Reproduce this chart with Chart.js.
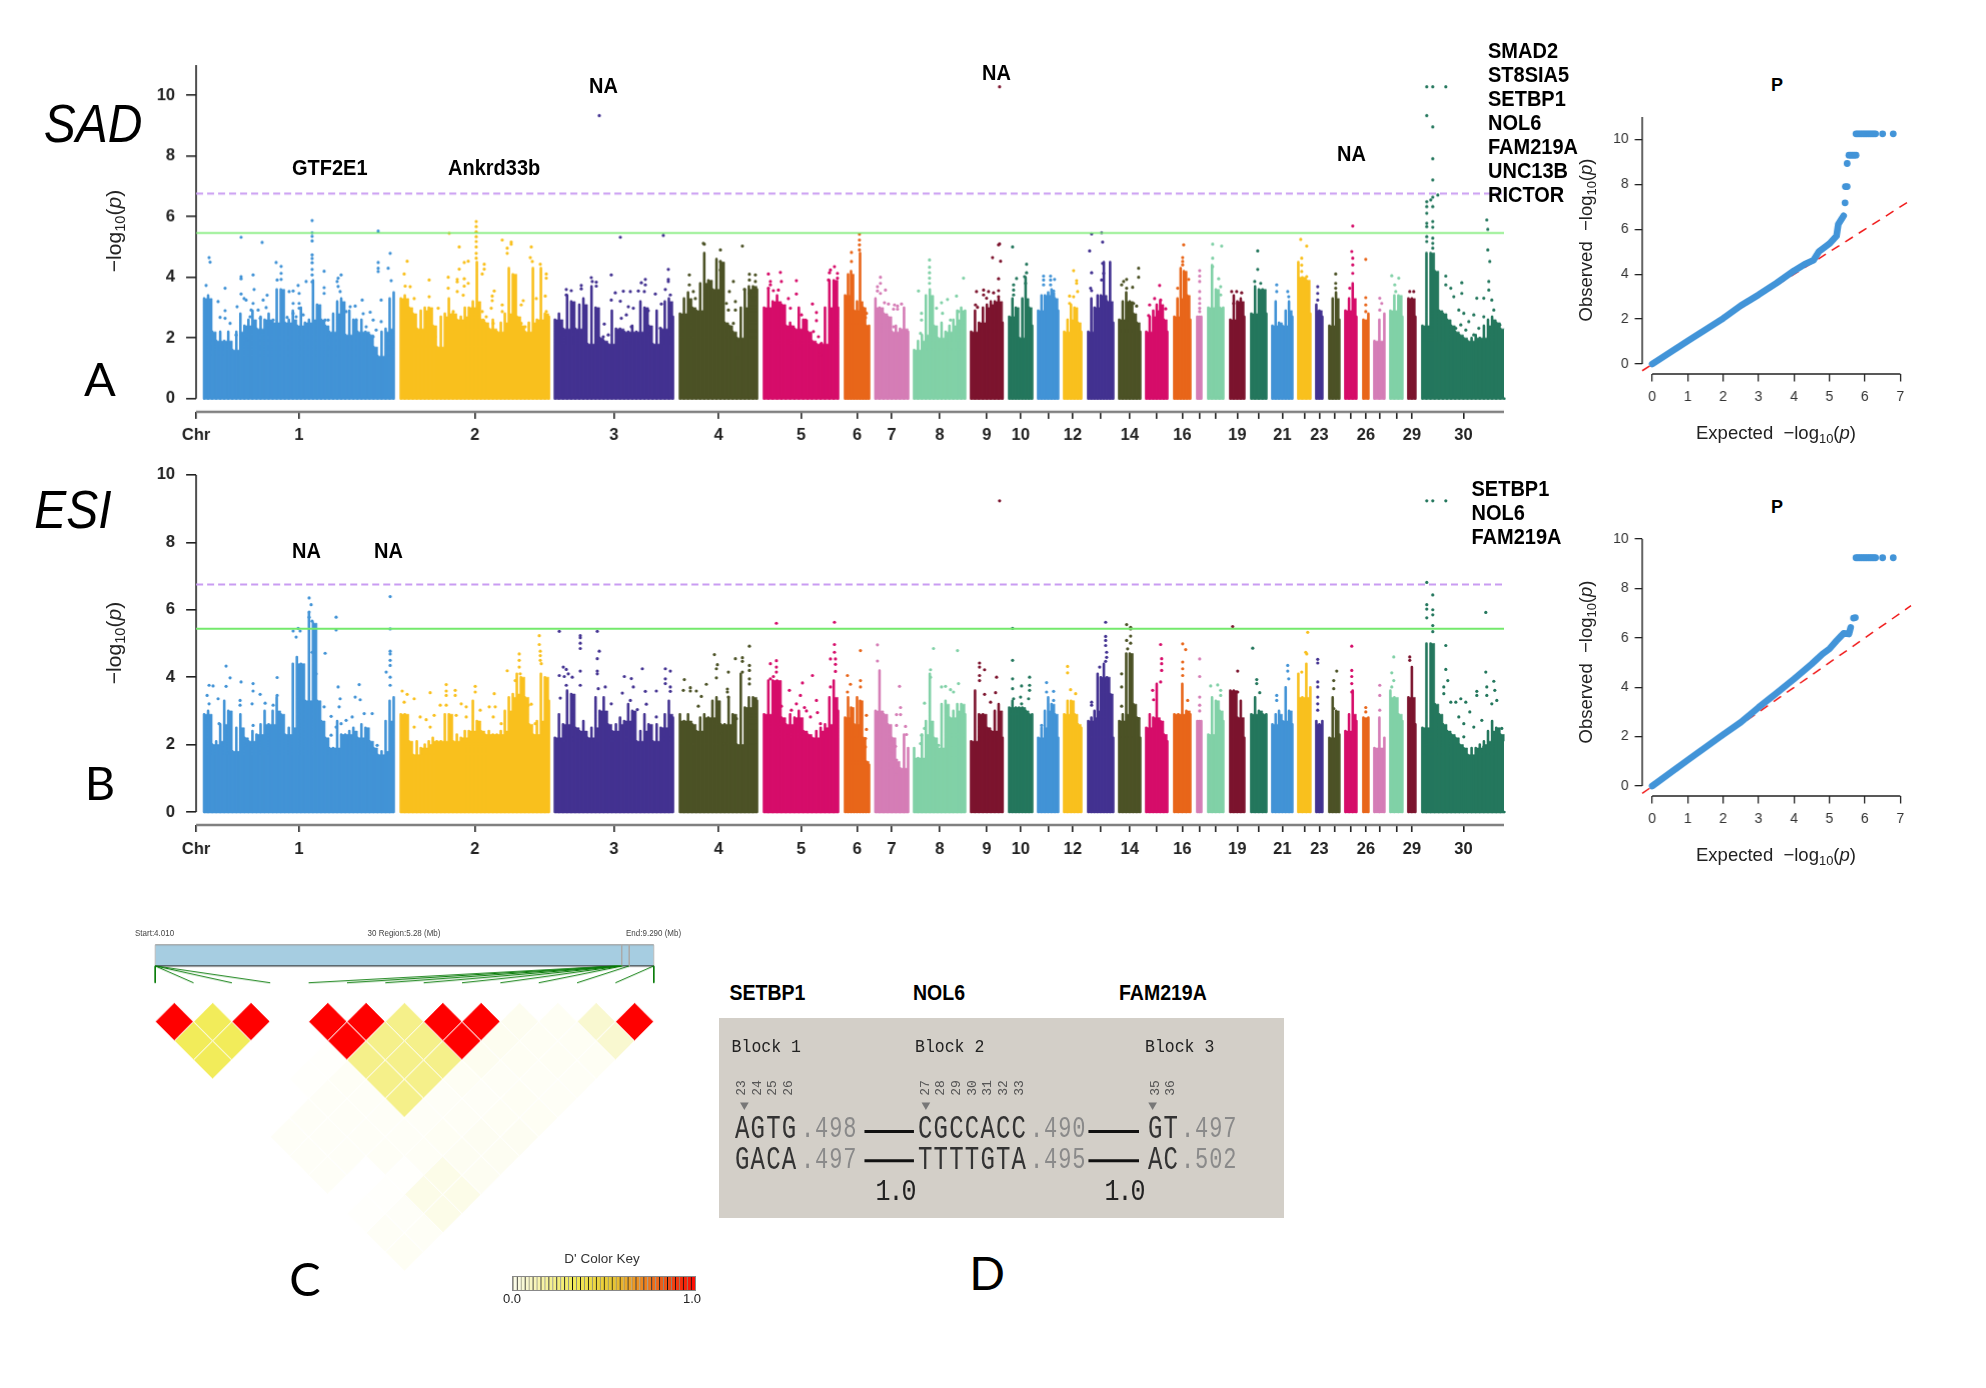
<!DOCTYPE html>
<html><head><meta charset="utf-8">
<style>
html,body{margin:0;padding:0;background:#fff;width:1986px;height:1388px;overflow:hidden;font-family:"Liberation Sans",sans-serif}
canvas{position:absolute;display:block}
.t{position:absolute;white-space:nowrap;line-height:1;color:#000}
sub{font-size:.7em;line-height:0;vertical-align:-.3em}
</style>
<script src="https://cdn.jsdelivr.net/npm/chart.js@4/dist/chart.umd.js"></script>
</head><body>
<script>
/* ---------- shared genome layout ---------- */
const chrStart=[8,204.6,358.6,483.6,567.6,648.6,679,717.6,774.6,812.6,841.6,867.6,891.6,922.6,949.6,977.6,1000.6,1011.6,1033.6,1054.6,1075.6,1101.6,1119.6,1132.6,1148.6,1166.6,1177.6,1193.6,1211.6,1225.6];
const chrEnd=[197.5,352.6,476.6,560.6,641.6,672.6,711.6,768.6,806,835.6,861.6,884.6,916.6,943.6,970.6,993.6,1004.6,1026.6,1047.6,1069.6,1095.6,1113.6,1125.6,1142.6,1159.6,1171.6,1187.6,1205.6,1218.6,1307.6];
const chrLabels=['1','2','3','4','5','6','7','8','9','10','','12','','14','','16','','','19','','21','','23','','','26','','','29','30'];
const chrPalette=['#4293d6','#f9c01e','#433291','#4c5226','#d60d6a','#e8661a','#d57db6','#81d1a7','#7c142e','#24775d'];
const yTicks=[0,2,4,6,8,10];

/* ---------- SAD: dense-band height along each chromosome ---------- */
const sadChr1=[3.3,3.4,2.2,1.9,2.2,1.9,2.2,1.6,2.2,2.8,2.4,2.6,2.9,2.3,2.7,2.6,2.8,2.5,3.6,3.6,2.5,2.6,2.9,2.4,3.0,2.5,2.6,3.9,3.1,2.6,2.4,2.2,2.8,3.2,3.3,2.1,2.9,2.6,2.2,2.6,2.2,2.1,1.7,1.4,2.2,2.3,3.3,3.5];
const sadChr2=[3.3,3.4,3.0,2.8,2.3,2.9,3.0,3.0,2.4,1.7,2.7,2.8,3.3,2.8,2.6,2.7,3.0,3.0,3.2,4.5,2.6,2.5,2.3,2.6,2.2,2.5,2.8,4.3,4.1,2.7,2.4,2.2,2.5,4.3,2.6,4.3,2.8,2.7];
const sadChr3=[2.6,2.8,2.3,3.4,3.2,2.3,3.1,3.3,1.8,3.7,3.0,2.0,1.9,1.8,2.9,2.3,2.3,2.2,2.2,2.4,2.2,3.2,3.0,2.4,1.8,2.9,2.3,3.2,3.3,2.7];
const sadChr4=[2.8,3.3,3.5,3.0,2.9,3.8,4.8,3.9,3.6,4.6,4.5,2.5,2.4,2.2,2.0,3.0,3.6,3.7,3.7,3.6];
const sadChr5=[3.0,3.6,3.2,3.4,3.1,2.4,2.5,2.3,3.0,2.6,2.2,1.9,1.8,1.8,3.0,3.9,3.9,3.0];
const sadChr6=[3.4,4.1,4.2,2.9,3.2,4.8,3.0,2.4,2.4];
const sadChr7=[3.3,3.0,2.8,2.7,2.2,2.4,2.3,3.0,2.2];
const sadChr8=[1.6,1.9,2.1,3.4,3.6,2.4,2.0,2.5,2.2,2.4,2.6,2.9,3.0,2.9];
const sadChr9=[2.2,2.9,2.5,3.0,3.1,3.2,3.2,3.3,2.5];
const sadChr10=[2.7,3.3,3.0,2.0,3.3,4.0,3.0,2.4];
const sadChr11=[2.9,3.4,3.4,3.5,3.6,3.3,2.9];
const sadChr12=[2.2,2.6,3.1,3.0,2.5,2.2];
const sadChr13=[2.2,3.3,3.0,3.4,3.4,4.5,3.2,4.5,2.5];
const sadChr14=[2.6,3.2,3.5,3.2,2.8,2.5,2.2];
const sadChr15=[2.2,2.7,2.9,3.1,3.2,2.6,2.2];
const sadChr16=[2.7,3.3,4.3,4.2,3.4,2.6];
const sadChr17=[2.7,2.7,2.7];
const sadChr18=[3.0,4.4,3.6,3.0,3.0];
const sadChr19=[2.6,3.4,3.2,3.3,2.7];
const sadChr20=[2.8,3.7,3.6,3.6,2.8];
const sadChr21=[2.4,3.2,2.5,2.4,2.9,3.2,2.7];
const sadChr22=[4.5,4.0,3.9,2.8];
const sadChr23=[3.1,2.9,2.7];
const sadChr24=[2.4,3.3,3.5,2.6];
const sadChr25=[2.9,3.3,3.8,2.7];
const sadChr26=[2.6,2.8];
const sadChr27=[1.9,2.6,2.8];
const sadChr28=[2.9,3.4,3.4,2.7];
const sadChr29=[3.3,3.3,2.7];
const sadChr30=[2.4,4.8,4.8,4.2,2.9,2.8,2.6,2.4,2.2,2.1,2.0,1.9,2.0,2.1,2.0,2.4,2.6,2.7,2.5,2.3,2.3];
/* SAD: single markers above the dense band [genome position, -log10 p] */
const sadHits=[[45,5.32],[66,5.15],[13,4.65],[14,4.5],[116,5.87],[116,5.47],[116,5.35],[116,5.2],[116,4.74],[116,4.62],[116,4.48],[116,4.26],[116,4.08],[116,3.85],[182,5.52],[182,4.49],[182,4.3],[182,4.19],[194,4.79],[192,4.3],[195,3.89],[10,3.73],[80,4.49],[85,4.36],[85,4.13],[85,3.93],[81,3.91],[128,4.2],[57,4.08],[45,4.02],[45,3.95],[29,3.64],[58,3.6],[110,3.86],[102,3.73],[93,3.53],[97,3.55],[103,3.47],[145,4.08],[142,3.97],[141,3.86],[142,3.7],[144,3.53],[128,3.66],[128,3.47],[71,3.41],[67,3.25],[45,3.45],[48,3.3],[50,3.25],[22,3.2],[166,3.25],[185,3.25],[55,2.92],[62,2.92],[70,3.0],[29,2.9],[41,3.03],[154,3.03],[159,3.05],[174,2.85],[167,2.8],[150,2.87],[24,2.68],[29,2.65],[34,2.48],[129,2.59],[132,2.59],[177,2.59],[185,2.54],[97,2.81],[97,3.14],[103,3.14],[103,2.98],[77,2.59],[57,3.14],[54,2.7],[64,2.65],[91,2.68],[100,2.7],[107,2.76],[160,2.6],[170,2.37],[180,2.26],[132,2.04],[132,1.66],[135,2.1],[40,2.1],[50,1.93],[65,2.1],[177,2.04],
[280,5.84],[280,5.67],[280,5.5],[280,5.34],[280,5.18],[280,5.0],[280,4.79],[280,4.63],[253,5.45],[263,5.0],[306,5.23],[315,5.16],[315,5.09],[311,4.96],[311,4.79],[335,5.0],[334,4.65],[336,4.52],[211,4.53],[208,4.11],[268,4.49],[272,4.53],[288,4.43],[288,4.27],[286,4.11],[263,4.27],[252,4.0],[233,3.91],[261,3.93],[261,3.85],[268,3.95],[268,3.71],[272,3.8],[252,3.64],[214,3.69],[209,3.71],[261,3.53],[298,3.55],[296,3.38],[350,4.11],[350,3.97],[344,4.43],[349,3.38],[340,3.3],[327,3.23],[325,3.09],[306,3.09],[296,3.23],[218,3.3],[233,3.36],[242,2.98],[350,2.87],[267,3.41],[286,2.87],[295,2.98],[306,2.87],[257,2.87],[290,2.7],[297,2.48],[325,2.48],[329,2.37],[259,2.2],[287,2.59],[239,2.04],[223,2.04],
[403,9.33],[424,5.32],[467,5.38],[415,4.08],[472,4.26],[472,3.93],[472,3.86],[395,3.99],[396,3.86],[400,3.84],[400,3.71],[385,3.73],[385,3.62],[370,3.6],[375,3.56],[370,3.42],[427,3.54],[434,3.53],[419,3.49],[442,3.55],[445,3.82],[449,3.93],[449,3.75],[448,3.53],[459,3.45],[469,3.6],[474,3.42],[415,3.25],[424,3.21],[432,3.03],[437,2.98],[430,2.76],[425,2.65],[452,2.9],[465,3.12],[408,2.46],[435,2.37],[412,2.1],[407,2.04],[391,1.77],[453,2.1],[464,2.32],
[507,5.12],[508,5.09],[546,5.03],[524,4.9],[524,4.52],[524,4.24],[526,3.95],[537,3.86],[533,3.53],[553,4.1],[559,4.08],[553,3.91],[559,3.86],[548,3.6],[557,3.25],[553,3.47],[530,3.14],[539,3.2],[539,2.92],[532,2.92],[493,4.08],[497,3.53],[499,3.3],[493,3.75],[537,2.48],[534,2.37],[541,1.93],[541,1.33],
[572,4.11],[574,3.86],[584,4.16],[585,3.86],[574,3.75],[572,3.64],[577,3.56],[582,3.58],[600,3.89],[600,3.45],[592,3.3],[616,3.12],[620,2.84],[620,2.57],[638,4.35],[634,4.24],[633,4.15],[641,4.13],[641,3.97],[632,3.91],[639,3.64],[605,2.76],[609,2.59],[617,2.21],[622,2.04],[625,1.82],[594,2.98],[604,1.66],[614,1.66],[624,1.44],[595,2.37],
[663,5.42],[663,5.23],[663,5.07],[663,4.9],[655,4.82],[655,4.52],[670,2.81],[667,2.81],[669,2.67],
[684,4.0],[684,3.8],[681,3.69],[681,3.55],[689,3.58],[684,3.47],[688,3.16],[692,3.12],[698,3.09],[701,3.05],[705,3.12],[697,2.95],[701,2.95],[692,2.65],[697,2.37],[699,2.1],
[733,4.57],[733,4.33],[733,4.15],[733,3.97],[733,3.8],[722,3.55],[767,3.97],[760,3.38],[751,3.27],[745,3.16],[740,2.98],[725,2.81],[725,2.59],[746,2.81],[762,2.87],[754,2.59],[724,2.15],
[803,10.28],[803,5.1],[802,5.07],[796,4.65],[804,4.53],[802,3.95],[802,3.56],[780,3.53],[787,3.58],[792,3.53],[797,3.49],[779,3.09],[781,3.01],[787,3.42],[790,3.31],[802,3.36],
[816,5.0],[830,4.43],[830,4.15],[828,4.02],[820,3.96],[817,3.75],[817,3.58],[817,3.42],[829,3.8],
[847,4.04],[854,4.04],[847,3.91],[854,3.91],[847,3.75],[858,3.93],[854,3.75],[857,3.55],
[877,4.22],[880,3.89],[880,3.8],[877,3.36],[873,3.38],[881,3.53],[873,3.14],
[895,5.43],[905,5.47],[906,5.16],[893,4.87],[895,4.15],[906,4.46],[894,3.64],[895,3.56],[905,3.91],[907,4.13],
[942,4.3],[942,4.0],[930,3.93],[927,3.86],[925,3.75],[936,3.67],[930,3.64],[937,3.14],[940,3.05],
[963,3.73],[958,3.3],[964,3.25],[969,2.96],[953,3.09],[952,2.74],
[987,5.07],[986,4.65],[986,4.52],[986,4.41],[992,3.93],[981,3.64],
[1003,4.22],[1003,4.04],[1003,3.86],[1003,3.53],[1003,3.3],[1003,3.14],[1003,2.98],[1003,2.87],
[1016,5.09],[1025,5.03],[1016,4.63],[1016,4.35],[1022,3.95],[1024,3.69],[1024,3.42],
[1035,3.53],[1040,3.53],[1045,3.49],[1037,3.14],
[1061,4.87],[1061,4.26],[1058,3.86],[1064,3.8],
[1080,3.75],[1080,3.53],[1091,3.53],[1092,3.36],
[1104,5.25],[1110,5.03],[1105,4.63],[1105,4.4],[1105,4.19],[1110,4.02],
[1121,3.69],[1121,3.47],[1121,3.25],
[1139,4.11],[1139,3.8],[1139,3.64],
[1156,5.69],[1155,4.85],[1156,4.63],[1156,4.41],[1156,4.13],[1153,3.64],
[1169,4.59],[1169,3.33],[1169,3.09],[1169,2.87],
[1183,3.31],[1183,2.92],[1185,3.14],
[1195,4.05],[1202,3.97],[1198,3.75],[1199,3.53],
[1213,3.53],[1217,3.53],
[1230,10.28],[1236,10.28],[1249,10.28],[1230,9.33],[1236,8.96],[1236,7.91],[1236,7.21],[1241,6.71],[1236,6.64],[1234,6.55],[1230,6.49],[1230,6.33],[1236,6.33],[1230,6.11],[1230,5.78],[1236,5.84],[1230,5.67],[1236,5.65],[1230,5.34],[1236,5.29],[1230,5.18],[1236,5.12],[1236,4.96],[1290,5.89],[1291,5.58],[1291,4.9],[1293,4.52],[1292,3.86],[1292,3.58],[1249,4.04],[1265,3.82],[1265,3.47],[1249,3.75],[1254,3.64],[1239,4.02],[1257,3.36],[1280,3.31],[1287,3.31],[1295,3.25],[1297,2.92],[1267,2.81],[1262,2.92],[1277,2.76],[1287,2.7],[1303,2.43],[1272,2.54],[1264,2.43],[1282,2.32],[1259,2.32],[1269,2.26],[1277,2.1]];

/* ---------- ESI: dense-band height along each chromosome ---------- */
const esiChr1=[2.9,3.0,2.0,2.1,2.6,3.3,3.0,1.8,2.5,2.9,2.2,2.1,2.4,2.3,2.6,3.0,2.6,3.0,3.4,2.9,2.3,2.5,4.4,4.6,4.4,3.3,5.9,5.6,3.3,2.7,2.2,1.9,1.9,2.7,2.3,2.3,2.4,2.5,2.2,2.6,2.5,2.1,1.9,1.7,1.8,2.7,3.3,3.4];
const esiChr2=[2.9,2.9,2.1,1.7,2.1,1.9,2.0,2.1,2.2,2.1,2.1,2.9,2.9,2.1,2.3,2.2,2.4,2.4,3.3,2.7,2.4,2.3,2.4,2.3,2.3,2.4,3.0,3.4,3.5,4.1,4.0,3.4,2.6,2.3,2.7,4.1,4.0,3.3];
const esiChr3=[2.2,2.9,2.6,3.6,3.5,2.5,2.4,2.7,2.2,2.5,3.4,3.0,3.4,2.6,2.4,2.6,2.8,2.7,3.2,3.0,2.1,2.4,2.9,2.6,2.1,2.6,2.5,2.9,3.3,2.8];
const esiChr4=[2.9,2.7,2.9,2.6,2.4,2.8,2.9,2.8,3.3,3.4,2.6,2.6,3.4,2.9,2.0,4.1,3.1,3.4,3.4,3.3];
const esiChr5=[2.9,3.9,3.9,3.9,2.8,2.6,2.9,2.8,3.0,2.4,2.3,2.2,2.4,2.5,2.6,3.4,3.9,3.0];
const esiChr6=[2.8,3.4,3.1,2.6,3.4,3.3,2.2,1.5,1.4];
const esiChr7=[3.0,4.2,2.9,2.6,2.2,1.5,1.3,2.3,1.9];
const esiChr8=[1.9,1.6,2.3,2.7,4.1,2.2,1.9,3.2,3.3,2.8,3.0,3.2,3.2,2.9];
const esiChr9=[2.1,3.6,2.9,2.9,2.5,2.4,3.0,3.2,2.2];
const esiChr10=[3.1,3.3,3.1,3.1,3.1,3.0,2.9,2.9];
const esiChr11=[2.2,2.5,3.0,3.4,3.2,2.9,2.2];
const esiChr12=[2.9,3.3,3.3,2.9,2.6,2.5];
const esiChr13=[2.7,2.8,3.0,4.1,4.0,4.4,4.0,3.5,2.2];
const esiChr14=[2.7,2.9,4.7,4.7,3.2,2.8,2.2];
const esiChr15=[2.5,2.9,2.8,3.8,2.7,2.3,2.1];
const esiChr16=[2.9,2.9,3.8,3.0,2.9];
const esiChr17=[2.7,2.7,2.7];
const esiChr18=[2.3,3.4,3.3,3.0,2.7];
const esiChr19=[3.6,3.6,2.8,3.3,2.2];
const esiChr20=[2.9,3.4,3.0,2.9,2.9];
const esiChr21=[2.6,2.9,3.0,2.7,3.7,3.0,2.6];
const esiChr22=[4.1,3.4,4.4,3.7];
const esiChr23=[2.7,2.6,2.7];
const esiChr24=[2.2,3.4,3.0,2.3];
const esiChr25=[2.4,2.9,3.6,2.7];
const esiChr26=[2.8,2.8];
const esiChr27=[1.9,2.8,2.2];
const esiChr28=[3.6,3.4,2.9,2.7];
const esiChr29=[3.4,4.3,2.6];
const esiChr30=[2.5,5.0,5.0,3.2,2.9,2.6,2.4,2.3,2.2,2.0,1.9,1.7,1.9,1.9,2.0,2.1,2.4,2.7,2.5,2.3,2.1];
/* ESI: single markers above the dense band */
const esiHits=[[113,6.35],[115,6.15],[113,5.93],[113,5.78],[116,5.66],[140,5.78],[140,5.4],[194,6.39],[194,5.43],[102,5.45],[97,5.37],[104,5.37],[100,5.19],[194,4.77],[194,4.69],[194,4.5],[194,4.35],[190,4.15],[194,4],[194,3.76],[129,4.71],[120,4.1],[116,4.74],[30,4.33],[34,3.98],[30,3.73],[13,3.76],[17,3.74],[11,3.46],[45,3.86],[57,3.81],[57,3.59],[64,3.49],[81,3.99],[81,3.46],[163,3.78],[142,3.71],[159,3.41],[164,3.33],[144,3.36],[22,3.36],[44,3.31],[44,3.17],[56,3.21],[69,3.23],[77,3.17],[128,3.12],[143,3.12],[176,2.92],[135,2.84],[156,2.82],[168,2.92],[13,3.21],[23,2.62],[57,2.57],[140,2.52],[145,2.62],[150,2.72],[135,2.28],[181,1.98],[174,1.83],[49,1.98],[31,1.74],
[343,5.23],[343,4.97],[344,4.77],[344,4.64],[344,4.5],[345,4.4],[323,4.69],[323,4.5],[323,4.3],[324,4.1],[311,4.19],[319,3.9],[250,3.78],[250,3.59],[250,3.46],[259,3.61],[259,3.46],[279,3.73],[279,3.56],[298,3.51],[234,3.54],[206,3.59],[211,3.49],[218,3.36],[208,3.26],[244,3.17],[250,3.17],[265,3.21],[270,3.12],[293,3.12],[299,3.12],[284,3.02],[238,2.87],[230,2.74],[224,2.82],[260,2.87],[270,2.82],[332,3.17],[335,3.2],[297,2.82],[305,2.62],[218,2.52],[234,2.52],[339,2.62],
[363,5.36],[384,5.23],[384,5.17],[384,5.01],[384,4.85],[401,5.36],[403,4.77],[401,4.55],[401,4.18],[401,4.1],[367,4.3],[370,4.23],[372,4.1],[363,4.05],[368,4.02],[376,4],[384,4.18],[446,4.25],[469,4.25],[474,4.18],[428,4.02],[435,3.96],[469,3.95],[469,3.81],[370,3.76],[384,3.76],[409,3.71],[437,3.71],[449,3.58],[460,3.59],[474,3.71],[474,3.58],[402,3.66],[426,3.53],[434,3.31],[415,3.21],[364,3.38],[450,3.2],[441,3.04],[460,2.82],
[488,3.93],[494,3.69],[494,3.59],[487,3.61],[500,3.59],[510,3.79],[518,4.67],[521,4.37],[520,4.25],[520,3.98],[505,3.43],[502,3.14],[553,4.92],[539,4.55],[546,4.58],[546,4.47],[532,4.15],[553,4.35],[553,4.2],[546,4.15],[553,3.95],[553,3.8],[531,3.65],[531,3.56],[532,3.41],[537,2.82],[540,2.77],[525,2.33],[527,2.03],
[580,5.6],[638,5.63],[638,4.97],[638,4.74],[634,4.54],[639,4.54],[639,4.38],[639,4.17],[574,4.4],[580,4.49],[580,4.3],[580,4.15],[577,4.02],[574,3.95],[616,4.05],[606,3.83],[593,3.61],[604,3.46],[620,3.31],[600,3.21],[621,2.95],[608,3.1],[585,3.14],[610,3.0],[614,2.82],[634,3.71],[624,2.62],[595,3.02],
[664,4.79],[651,4.05],[654,3.79],[664,3.9],[664,3.71],[651,3.56],[670,2.87],[670,2.45],[669,2.18],[669,1.93],[667,1.54],
[681,4.96],[681,4.48],[703,3.73],[704,3.1],[700,2.89],[704,2.89],[700,2.57],[709,2.54],[710,2.3],[694,2.15],[689,2.77],[699,1.95],[694,1.74],[700,1.54],[699,1.12],
[737,4.85],[761,4.79],[734,4.22],[734,4.0],[745,3.71],[749,3.73],[754,3.63],[762,3.81],[757,3.56],[728,3.23],[728,2.48],[725,2.28],[724,2.03],[742,1.98],
[803,9.23],[783,4.42],[783,4.3],[783,4.05],[788,4.22],[800,4.0],[799,3.54],[788,3.49],[794,3.26],[783,3.9],
[816,5.45],[816,4.5],[816,3.95],[833,4.0],[833,3.76],[816,3.66],[825,3.74],[833,3.61],[824,3.41],[817,3.36],[832,3.36],[825,3.21],
[850,3.84],[850,3.56],[857,3.58],[857,3.31],[845,2.57],
[871,4.32],[871,4.13],[874,3.63],[879,3.51],
[909,5.63],[909,5.21],[909,5.09],[909,4.94],[910,4.74],[910,4.59],[909,4.47],[903,4.3],[895,3.26],[895,3.17],
[930,5.56],[934,5.48],[934,5.43],[934,5.22],[930,5.09],[934,5.01],[931,4.84],[925,4.1],[925,3.71],[942,2.77],[925,3.14],
[964,4.97],[965,4.55],[965,4.4],[965,4.2],[956,3.61],[957,3.33],[964,3.86],
[986,4.99],[989,4.82],[986,4.45],[986,4.25],[986,4.05],[991,3.31],
[1003,4.54],[1003,4.02],[1003,3.41],[1003,3.17],[1003,3.0],
[1014,3.74],[1021,3.77],[1024,3.61],[1024,3.46],
[1036,5.5],[1041,4.18],[1037,3.56],[1041,3.56],
[1056,4.86],[1060,3.93],[1060,3.81],[1063,3.54],
[1091,4.35],[1091,4.18],[1080,3.46],[1092,3.95],[1080,3.31],
[1111,5.33],[1109,4.74],[1110,4.69],[1105,4.15],
[1121,4.53],[1121,4.42],[1121,3.86],[1121,3.71],[1121,3.41],[1121,3.21],[1121,3.02],
[1140,4.18],[1137,3.9],[1137,3.66],[1137,3.07],
[1155,4.92],[1155,4.2],[1155,4.02],[1155,3.81],[1155,3.56],
[1169,3.1],[1169,2.97],
[1183,3.76],[1183,3.46],[1183,3.02],
[1197,4.6],[1195,4.13],[1197,3.9],[1195,3.71],
[1213,4.6],[1213,4.5],
[1230,9.23],[1236,9.23],[1249,9.23],[1230,6.81],[1236,6.44],[1230,6.15],[1230,6.02],[1236,6.0],[1236,5.85],[1230,5.76],[1236,5.53],[1236,5.35],[1289,5.92],[1249,4.94],[1249,4.23],[1289,4.15],[1297,3.88],[1290,3.71],[1251,3.9],[1247,3.71],[1247,3.51],[1280,3.58],[1290,3.46],[1298,3.61],[1264,3.36],[1269,3.26],[1254,3.26],[1259,3.26],[1300,3.31],[1295,3.21],[1280,3.46],[1273,2.97],[1262,2.82],[1285,2.72],[1305,2.48],[1267,2.62],[1277,2.52],[1267,2.23],[1287,1.93]];

const sadBonferroni=6.76, sadSuggestive=5.46, esiBonferroni=6.75, esiSuggestive=5.44;

/* ---------- QQ plots ---------- */
const qqXTicks=[0,1,2,3,4,5,6,7];
const sadQQBand=[[0,0],[1,1.03],[2,2.03],[2.5,2.6],[3,3.08],[3.5,3.6],[4,4.15],[4.3,4.44],[4.55,4.62],[4.7,5.0],[5,5.36],[5.2,5.7],[5.25,6.22],[5.4,6.6]];
const sadQQTail=[[5.44,7.18],[5.45,7.9],[5.5,7.9],[5.5,8.93],[5.55,9.3],[5.6,9.3],[5.65,9.3],[5.7,9.3],[5.75,9.3],[5.75,10.25],[5.8,10.25],[5.85,10.25],[5.9,10.25],[5.95,10.25],[6,10.25],[6.05,10.25],[6.1,10.25],[6.15,10.25],[6.2,10.25],[6.25,10.25],[6.3,10.25],[6.5,10.25],[6.8,10.25]];
const esiQQBand=[[0,0],[1,1.05],[2,2.08],[2.5,2.58],[3,3.18],[3.5,3.75],[4,4.33],[4.5,4.94],[4.8,5.34],[5,5.55],[5.2,5.88],[5.4,6.18],[5.55,6.15],[5.6,6.42]];
const esiQQTail=[[5.68,6.8],[5.73,6.82],[5.75,9.24],[5.8,9.24],[5.85,9.24],[5.9,9.24],[5.95,9.24],[6,9.24],[6.05,9.24],[6.1,9.24],[6.15,9.24],[6.2,9.24],[6.25,9.24],[6.3,9.24],[6.5,9.24],[6.8,9.24]];

/* ---------- LD heat map: D' by row of separation ---------- */
const ldRow0=[1,.35,1,0,1,1,.25,1,1,.03,.02,.1,1];
const ldRow1=[.35,.35,0,0,1,.25,.25,1,.03,.02,.02,.1];
const ldRow2=[.35,0,0,.005,.25,.25,.25,.03,.02,.02,.02];
const ldRow3=[0,0,.005,.015,.25,.25,.02,.015,.015,.015];
const ldRow4=[0,0,.012,.012,.25,.012,.012,.02,.015];
const ldRow5=[0,.012,.012,.012,.012,.015,.02,.02];
const ldRow6=[.012,.012,.012,.012,.02,.025,.025];
const ldRow7=[.012,.012,.015,.015,.025,.025];
const ldRow8=[.012,0,.005,.05,.025];
const ldRow9=[0,.005,.05,.05];
const ldRow10=[.005,.01,.05];
const ldRow11=[.015,.015];
const ldRow12=[.02];
const snpMb=[4.01,4.01,4.01,4.01,8.90,8.91,8.92,8.93,8.94,8.95,8.96,9.03,9.29,9.29];
const regionStartMb=4.01, regionEndMb=9.29, regionMarksMb=[8.95,9.03];
const dKeySteps=[1,1,1,1,1,1,1,1,1,1,1,1,1,1,1,1,1,1,1,1,1,1,1,1,1,1,1,1,1,1,1,1,1,1,1,1,1,1,1,1,1,1,1,1,1,1];

/* ---------- haplotype blocks ---------- */
const hapGenes=['SETBP1','NOL6','FAM219A'];
const hapBlocks=['Block 1','Block 2','Block 3'];
const hapTop=['AGTG','CGCCACC','GT'];
const hapBottom=['GACA','TTTTGTA','AC'];
const hapFreqTop=['.498','.490','.497'];
const hapFreqBottom=['.497','.495','.502'];
const hapLinks=['1.0','1.0'];
const hapSnps1=['23','24','25','26'];
const hapSnps2=['27','28','29','30','31','32','33'];
const hapSnps3=['35','36'];

/* ========== rendering ========== */
const sadEnv=[sadChr1,sadChr2,sadChr3,sadChr4,sadChr5,sadChr6,sadChr7,sadChr8,sadChr9,sadChr10,sadChr11,sadChr12,sadChr13,sadChr14,sadChr15,sadChr16,sadChr17,sadChr18,sadChr19,sadChr20,sadChr21,sadChr22,sadChr23,sadChr24,sadChr25,sadChr26,sadChr27,sadChr28,sadChr29,sadChr30];
const esiEnv=[esiChr1,esiChr2,esiChr3,esiChr4,esiChr5,esiChr6,esiChr7,esiChr8,esiChr9,esiChr10,esiChr11,esiChr12,esiChr13,esiChr14,esiChr15,esiChr16,esiChr17,esiChr18,esiChr19,esiChr20,esiChr21,esiChr22,esiChr23,esiChr24,esiChr25,esiChr26,esiChr27,esiChr28,esiChr29,esiChr30];

function canvasAt(l,t,w,h){const c=document.createElement('canvas');c.style.left=l+'px';c.style.top=t+'px';c.style.width=w+'px';c.style.height=h+'px';c.width=w;c.height=h;document.body.appendChild(c);return c;}
function txt(html,x,y,css,anchor){const d=document.createElement('div');d.className='t';d.innerHTML=html;d.style.cssText+=';left:'+x+'px;top:'+y+'px;z-index:5;'+(css||'');d.style.transform=anchor||'translate(-50%,-50%)';document.body.appendChild(d);return d;}
const LEFT='translate(0,-50%)',VERT='translate(-50%,-50%) rotate(-90deg)';
const TALL='translate(0,-50%) scaleY(1.14)',SEQ='translate(0,-50%) scaleY(1.35)';
const PAD=20;
function base(type){return {responsive:false,animation:false,devicePixelRatio:1,maintainAspectRatio:false,events:[],layout:{padding:PAD},plugins:{legend:{display:false},tooltip:{enabled:false},title:{display:false}},scales:{}};}
function axisScale(axis,min,max,tickVals,fmt,font,color,tl,pad,tw,size,lw){
  const s={type:'linear',min,max,border:{display:false},
    grid:{drawOnChartArea:false,drawTicks:true,tickLength:tl,color:tw,lineWidth:lw,tickColor:tw,tickWidth:lw},
    ticks:{autoSkip:false,maxRotation:0,minRotation:0,padding:pad,color,font,callback:fmt},
    afterBuildTicks:sc=>{sc.ticks=tickVals.map(v=>({value:v}));}};
  if(axis==='y')s.afterFit=sc=>{sc.width=size;}; else s.afterFit=sc=>{sc.height=size;};
  return s;
}
function lineDs(pts,color,w,extra){return Object.assign({data:pts,showLine:true,borderColor:color,borderWidth:w,pointRadius:0,fill:false,clip:false},extra||{});}

function manhattan(area,yMax,env,hits,bonf,sugg,greenW,xPad){
  const yw=100,xh=42,[L,T,R,B,y0,unit]=area;
  const c=canvasAt(L-yw-PAD,T-PAD,R-L+yw+2*PAD,B-T+xh+2*PAD);
  const xMax=R-L, yMin=-(B-y0)/unit;
  const mids=chrStart.map((s,i)=>(s+chrEnd[i])/2), tickVals=[0].concat(mids);
  const labelOf={};tickVals.forEach((v,i)=>{labelOf[v]=i?chrLabels[i-1]:'Chr';});
  const ds=[];
  ds.push(lineDs([{x:0,y:sugg},{x:xMax,y:sugg}],'#74e96c',greenW));
  ds.push(lineDs([{x:0,y:bonf},{x:xMax,y:bonf}],'#c99cf2',2,{borderDash:[7,4]}));
  ds.push(lineDs([{x:0,y:0},{x:0,y:yMax}],'#222',1.6));
  ds.push(lineDs([{x:0,y:yMin},{x:xMax,y:yMin}],'#808080',2.4));
  chrStart.forEach((s,i)=>{
    const col=chrPalette[i%10], h=env[i], len=chrEnd[i]-s;
    const xs=h.map((v,k)=>s+len*k/(h.length-1));
    const pts=hits.filter(p=>{const j=chrEnd.findIndex(e=>p[0]<=e+3);return j===i;}).map(p=>({x:p[0],y:p[1]})).sort((a,b)=>a.x-b.x);
    ds.push({data:pts,showLine:false,pointRadius:1.6,pointBorderWidth:0,pointBackgroundColor:col,clip:false});
    ds.push(lineDs([{x:s,y:0},{x:chrEnd[i],y:0}],col,2.2));
    /* each read height is a thin column; the mass under neighbouring columns is solid */
    const comb=[];h.forEach((v,k)=>{comb.push({x:xs[k],y:0},{x:xs[k],y:v},{x:xs[k],y:null});});
    ds.push(lineDs(comb,col,2.6,{borderCapStyle:'round',spanGaps:false}));
    const mass=h.slice(0,-1).map((v,k)=>({x:xs[k+1],y:Math.min(v,h[k+1])}));
    mass.unshift({x:xs[0],y:mass[0].y});
    ds.push(lineDs(mass,col,0.6,{fill:'origin',backgroundColor:col,stepped:'before'}));
  });
  const o=base();
  const f={family:'Liberation Sans',size:16.5,weight:'bold'};
  o.scales.x=axisScale('x',0,xMax,tickVals,v=>labelOf[v]===undefined?'':labelOf[v],f,'#222',7,xPad,'#222',xh,1.6);
  o.scales.y=axisScale('y',yMin,yMax,yTicks,v=>String(v),f,'#222',10,11,'#222',yw,1.6);
  new Chart(c,{type:'scatter',data:{datasets:ds},options:o});
}
manhattan([196.4,64.3,1503.6,412,398.7,30.34],11,sadEnv,sadHits,sadBonferroni,sadSuggestive,1.6,7);
manhattan([196.4,474,1503.6,825,812,33.8],10,esiEnv,esiHits,esiBonferroni,esiSuggestive,2,8);

function qq(area,yMax,band,tail){
  const yw=60,xh=40,[L,T,R,B,y0,uy,x0,ux]=area;
  const c=canvasAt(L-yw-PAD,T-PAD,R-L+yw+2*PAD,B-T+xh+2*PAD);
  const xMin=(L-x0)/ux,xMax=(R-x0)/ux,yMin=-(B-y0)/uy;
  const blue='#4294d8';
  const ds=[
    {data:tail.map(p=>({x:p[0],y:p[1]})),showLine:false,pointRadius:3.4,pointBorderWidth:0,pointBackgroundColor:blue,clip:false},
    lineDs(band.map(p=>({x:p[0],y:p[1]})),blue,6.6,{borderCapStyle:'round',borderJoinStyle:'round'}),
    lineDs([{x:xMin,y:-0.3},{x:xMax,y:7.3}],'#f01818',1.5,{borderDash:[9,7]}),
    lineDs([{x:xMin,y:0},{x:xMin,y:yMax}],'#222',1.4),
    lineDs([{x:0,y:yMin},{x:7,y:yMin}],'#222',1.4)
  ];
  const o=base();
  const f={family:'Liberation Sans',size:14};
  o.scales.x=axisScale('x',xMin,xMax,qqXTicks,v=>String(v),f,'#333',7.5,7,'#222',xh,1.3);
  o.scales.y=axisScale('y',yMin,yMax,yTicks,v=>String(v),f,'#333',7.5,6,'#222',yw,1.3);
  new Chart(c,{type:'scatter',data:{datasets:ds},options:o});
}
qq([1641.7,116.8,1910.6,374.3,364.3,22.5,1651.7,35.46],11,sadQQBand,sadQQTail);
qq([1641.7,539.3,1910.6,796.3,786.3,24.7,1651.7,35.46],10,esiQQBand,esiQQTail);

/* LD panel */
const ldStops=[[0,[255,255,255]],[.01,[254,254,248]],[.03,[253,253,240]],[.06,[251,251,228]],[.1,[249,248,208]],[.25,[245,240,138]],[.35,[242,236,90]],[.55,[232,200,48]],[.7,[238,138,32]],[.85,[238,74,20]],[1,[255,0,0]]];
function dColor(v){for(let i=1;i<ldStops.length;i++){if(v<=ldStops[i][0]){const a=ldStops[i-1],b=ldStops[i],t=(v-a[0])/(b[0]-a[0]);return 'rgb('+a[1].map((q,k)=>Math.round(q+(b[1][k]-q)*t)).join(',')+')';}}return 'rgb(255,0,0)';}
(function(){
  const L=155.2,R=654.5,T=935.3,B=1280.9;
  const c=canvasAt(L-PAD,T-PAD,R-L+2*PAD,B-T+2*PAD);
  const rows=[ldRow0,ldRow1,ldRow2,ldRow3,ldRow4,ldRow5,ldRow6,ldRow7,ldRow8,ldRow9,ldRow10,ldRow11,ldRow12];
  let cells=[];rows.forEach((row,r)=>row.forEach((v,k)=>cells.push({x:k+r/2,y:r,v})));
  cells.sort((a,b)=>a.x-b.x);
  const mbX=m=>-0.5+13*(m-regionStartMb)/(regionEndMb-regionStartMb);
  const ds=[];
  snpMb.forEach((m,i)=>{
    const top={x:mbX(m),y:-2.9},bottom={x:i-.5,y:-2.02};
    ds.push(lineDs(top.x<=bottom.x?[top,bottom]:[bottom,top],'#067a06',1));
  });
  regionMarksMb.forEach(m=>ds.push(lineDs([{x:mbX(m),y:-4},{x:mbX(m),y:-2.9}],'#aaa',1)));
  ds.push(lineDs([{x:-.5,y:-2.9},{x:12.5,y:-2.9}],'#111',1));
  ds.push(lineDs([{x:-.5,y:-4},{x:12.5,y:-4}],'#8a8a8a',1.2));
  ds.push(lineDs([{x:-.5,y:-2.9},{x:-.5,y:-4}],'#bbb',1));
  ds.push(lineDs([{x:12.5,y:-2.9},{x:12.5,y:-4}],'#bbb',1));
  ds.push(lineDs([{x:-.5,y:-3.45},{x:12.5,y:-3.45}],'#a6cde1',21));
  ds.push({data:cells,showLine:false,pointStyle:'rectRot',pointRadius:19.2,pointBorderWidth:1,pointBorderColor:'#fff',pointBackgroundColor:ctx=>dColor(ctx.raw.v),clip:false});
  const o=base();
  o.scales.x={type:'linear',display:false,min:-.5,max:12.5};
  o.scales.y={type:'linear',display:false,min:-4.5,max:13.5,reverse:true};
  new Chart(c,{type:'scatter',data:{datasets:ds},options:o});
})();
(function(){
  const c=canvasAt(512.6,1276.7,182,13.3);
  c.style.outline='1px solid #888';
  const n=dKeySteps.length;
  const o=base();o.layout.padding=0;
  o.scales.x={display:false,grid:{display:false}};
  o.scales.y={display:false,min:0,max:1};
  new Chart(c,{type:'bar',data:{labels:dKeySteps.map((v,i)=>i),datasets:[{data:dKeySteps,categoryPercentage:1,barPercentage:1,
    backgroundColor:ctx=>dColor(ctx.dataIndex/(n-1)*0.92+.05),
    borderColor:ctx=>ctx.dataIndex%2?'#111':'#8a8a7a',borderWidth:{left:1,right:0,top:0,bottom:0}}]},options:o});
})();

/* haplotype panel */
(function(){
  const c=canvasAt(719,1018,565,200);
  c.style.background='#d3cfc8';
  const o=base();o.layout.padding=0;
  o.scales.x={type:'linear',display:false,min:-1.03,max:35.2};
  o.scales.y={type:'linear',display:false,min:-3.68,max:2.77,reverse:true};
  const ds=[];
  [[8.14,11.37],[22.76,26.06]].forEach(seg=>[0,1].forEach(row=>ds.push(lineDs([{x:seg[0],y:row},{x:seg[1],y:row}],'#111',3))));
  ds.push({data:[{x:.3,y:-.9},{x:12.15,y:-.9},{x:26.95,y:-.9}],showLine:false,pointStyle:'triangle',rotation:180,pointRadius:5,pointBorderWidth:0,pointBackgroundColor:'#777',clip:false});
  new Chart(c,{type:'scatter',data:{datasets:ds},options:o});
})();

/* ---------- text ---------- */
const bold='font-weight:bold;font-size:20px;';
const YT='−log<sub>10</sub>(<i>p</i>)';
function many(list,x,ys,css){list.forEach((s,i)=>txt(s,x,ys[i],css,TALL));}
txt('SAD',93,124,'font-style:italic;font-size:48px;','translate(-50%,-50%) scaleY(1.1)');
txt('ESI',73,510,'font-style:italic;font-size:48px;','translate(-50%,-50%) scaleY(1.1)');
const big='font-family:Lato,"Open Sans",sans-serif;font-size:47px;';
txt('A',100,378,big);txt('B',100,782,big);txt('C',305,1278,big);txt('D',987,1272,big);
txt(YT,113,231,'font-size:21px;color:#222;',VERT);
txt(YT,113,643,'font-size:21px;color:#222;',VERT);
txt('GTF2E1',292,167,bold,TALL);txt('Ankrd33b',448,167,bold,TALL);
txt('NA',589,85,bold,TALL);txt('NA',982,72,bold,TALL);txt('NA',1337,153,bold,TALL);
many(['SMAD2','ST8SIA5','SETBP1','NOL6','FAM219A','UNC13B','RICTOR'],1488,[50,74,98,122,146,170,194],bold);
txt('NA',292,550,bold,TALL);txt('NA',374,550,bold,TALL);
many(['SETBP1','NOL6','FAM219A'],1471.5,[488,512,536],bold);
const XT='Expected &nbsp;−log<sub>10</sub>(<i>p</i>)',OT='Observed &nbsp;−log<sub>10</sub>(<i>p</i>)';
const qf='font-size:18.5px;color:#222;';
txt('P',1777,85,'font-weight:bold;font-size:18px;');txt('P',1777,507,'font-weight:bold;font-size:18px;');
txt(XT,1776,433,qf);txt(XT,1776,855,qf);
txt(OT,1586,240,qf,VERT);txt(OT,1586,662,qf,VERT);
/* LD text */
const small='font-size:8px;color:#444;';
txt('Start:4.010',135,934,small,'translate(0,-50%) scaleY(1.2)');txt('30 Region:5.28 (Mb)',404,934,small,'translate(-50%,-50%) scaleY(1.2)');txt('End:9.290 (Mb)',626,934,small,'translate(0,-50%) scaleY(1.2)');
txt("D' Color Key",602,1259,'font-size:13.5px;color:#333;');
txt('0.0',512,1298,'font-size:13px;color:#222;');txt('1.0',692,1298,'font-size:13px;color:#222;');
/* haplotype text */
const geneX=[729.6,913,1119];hapGenes.forEach((g,i)=>txt(g,geneX[i],993,'font-weight:bold;font-size:19.5px;',TALL));
const mono='font-family:"Liberation Mono",monospace;';
const blockX=[731.6,915,1145];hapBlocks.forEach((b,i)=>txt(b,blockX[i],1048,mono+'font-size:16.5px;color:#222;',TALL));
const seqX=[735,918,1148],freqX=[801,1030,1181];
const seq=mono+'font-size:24px;letter-spacing:1.2px;color:#333;',freq=mono+'font-size:22px;letter-spacing:.9px;color:#8a8a8a;';
hapTop.forEach((s,i)=>txt(s,seqX[i],1130,seq,SEQ));
hapBottom.forEach((s,i)=>txt(s,seqX[i],1161,seq,SEQ));
hapFreqTop.forEach((s,i)=>txt(s,freqX[i],1130,freq,SEQ));
hapFreqBottom.forEach((s,i)=>txt(s,freqX[i],1161,freq,SEQ));
const linkX=[895,1124];hapLinks.forEach((s,i)=>txt(s,linkX[i],1192,mono+'font-size:25px;color:#222;letter-spacing:-2px;','translate(-50%,-50%) scaleY(1.2)'));
const snpCss=mono+'font-size:13px;color:#555;';
function snps(list,x0,step){list.forEach((s,i)=>txt(s,x0+i*step,1088,snpCss,VERT));}
snps(hapSnps1,741,15.6);snps(hapSnps2,924.5,15.7);snps(hapSnps3,1154.5,15.7);
</script>
</body></html>
